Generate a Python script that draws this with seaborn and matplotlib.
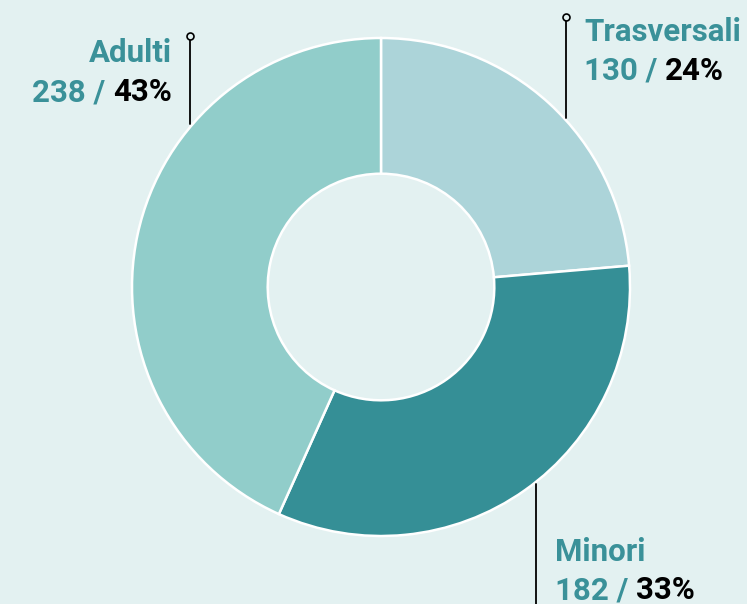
import matplotlib
matplotlib.use("Agg")
import matplotlib.pyplot as plt
import seaborn as sns

# data
labels = ["Trasversali", "Minori", "Adulti"]
values = [130, 182, 238]
colors = ["#acd4d9", "#358f96", "#91cdca"]

bg = "#e3f1f1"
teal = "#3a9199"

sns.set_theme(style="white")
plt.rcParams['font.family'] = ['Roboto', 'DejaVu Sans']

fig = plt.figure(figsize=(7.47, 6.04), dpi=100, facecolor=bg)
ax = fig.add_axes([0, 0, 1, 1])
ax.set_facecolor(bg)

cx, cy, r = 381, 317, 249
ax.pie(values, colors=colors, startangle=90, counterclock=False,
       center=(cx, cy), radius=r, frame=True,
       wedgeprops=dict(width=r * 0.545, edgecolor='white', linewidth=1.8))
ax.set_xlim(0, 747)
ax.set_ylim(0, 604)
ax.set_aspect('equal')
ax.axis('off')

total = sum(values)
pcts = [round(v / total * 100) for v in values]

# leader lines (x, y_top, y_bottom)
leaders = {"Trasversali": (566, 587, 486),
           "Adulti": (190, 568, 480),
           "Minori": (536, 120, -5)}
for name, (x, y0, y1) in leaders.items():
    ax.plot([x, x], [y0, y1], color='black', lw=1.3, zorder=3)
    if name != "Minori":
        ax.plot([x], [y0], marker='o', ms=5, mfc=bg, mec='black', mew=1.2, zorder=4)

fig.canvas.draw()
renderer = fig.canvas.get_renderer()
fs = 22.5


def two_color(x, y, num, pct, align):
    # number part teal, percent part black
    if align == 'left':
        t1 = ax.text(x, y, f"{num} / ", color=teal, fontsize=fs, fontweight='bold',
                     ha='left', va='baseline')
        bb = t1.get_window_extent(renderer)
        x2 = ax.transData.inverted().transform((bb.x1, 0))[0]
        ax.text(x2, y, f"{pct}%", color='black', fontsize=fs, fontweight='bold',
                ha='left', va='baseline')
    else:
        t2 = ax.text(x, y, f"{pct}%", color='black', fontsize=fs, fontweight='bold',
                     ha='right', va='baseline')
        bb = t2.get_window_extent(renderer)
        x1 = ax.transData.inverted().transform((bb.x0, 0))[0]
        ax.text(x1, y, f"{num} / ", color=teal, fontsize=fs, fontweight='bold',
                ha='right', va='baseline')


# Adulti
ax.text(172, 604 - 62, labels[2], color=teal, fontsize=fs, fontweight='bold',
        ha='right', va='baseline')
two_color(172, 604 - 101, values[2], pcts[2], 'right')

# Trasversali
ax.text(584, 604 - 41, labels[0], color=teal, fontsize=fs, fontweight='bold',
        ha='left', va='baseline')
two_color(584, 604 - 80, values[0], pcts[0], 'left')

# Minori
ax.text(555, 604 - 561, labels[1], color=teal, fontsize=fs, fontweight='bold',
        ha='left', va='baseline')
two_color(555, 604 - 599, values[1], pcts[1], 'left')

fig.savefig("out.png", dpi=100, facecolor=bg)
